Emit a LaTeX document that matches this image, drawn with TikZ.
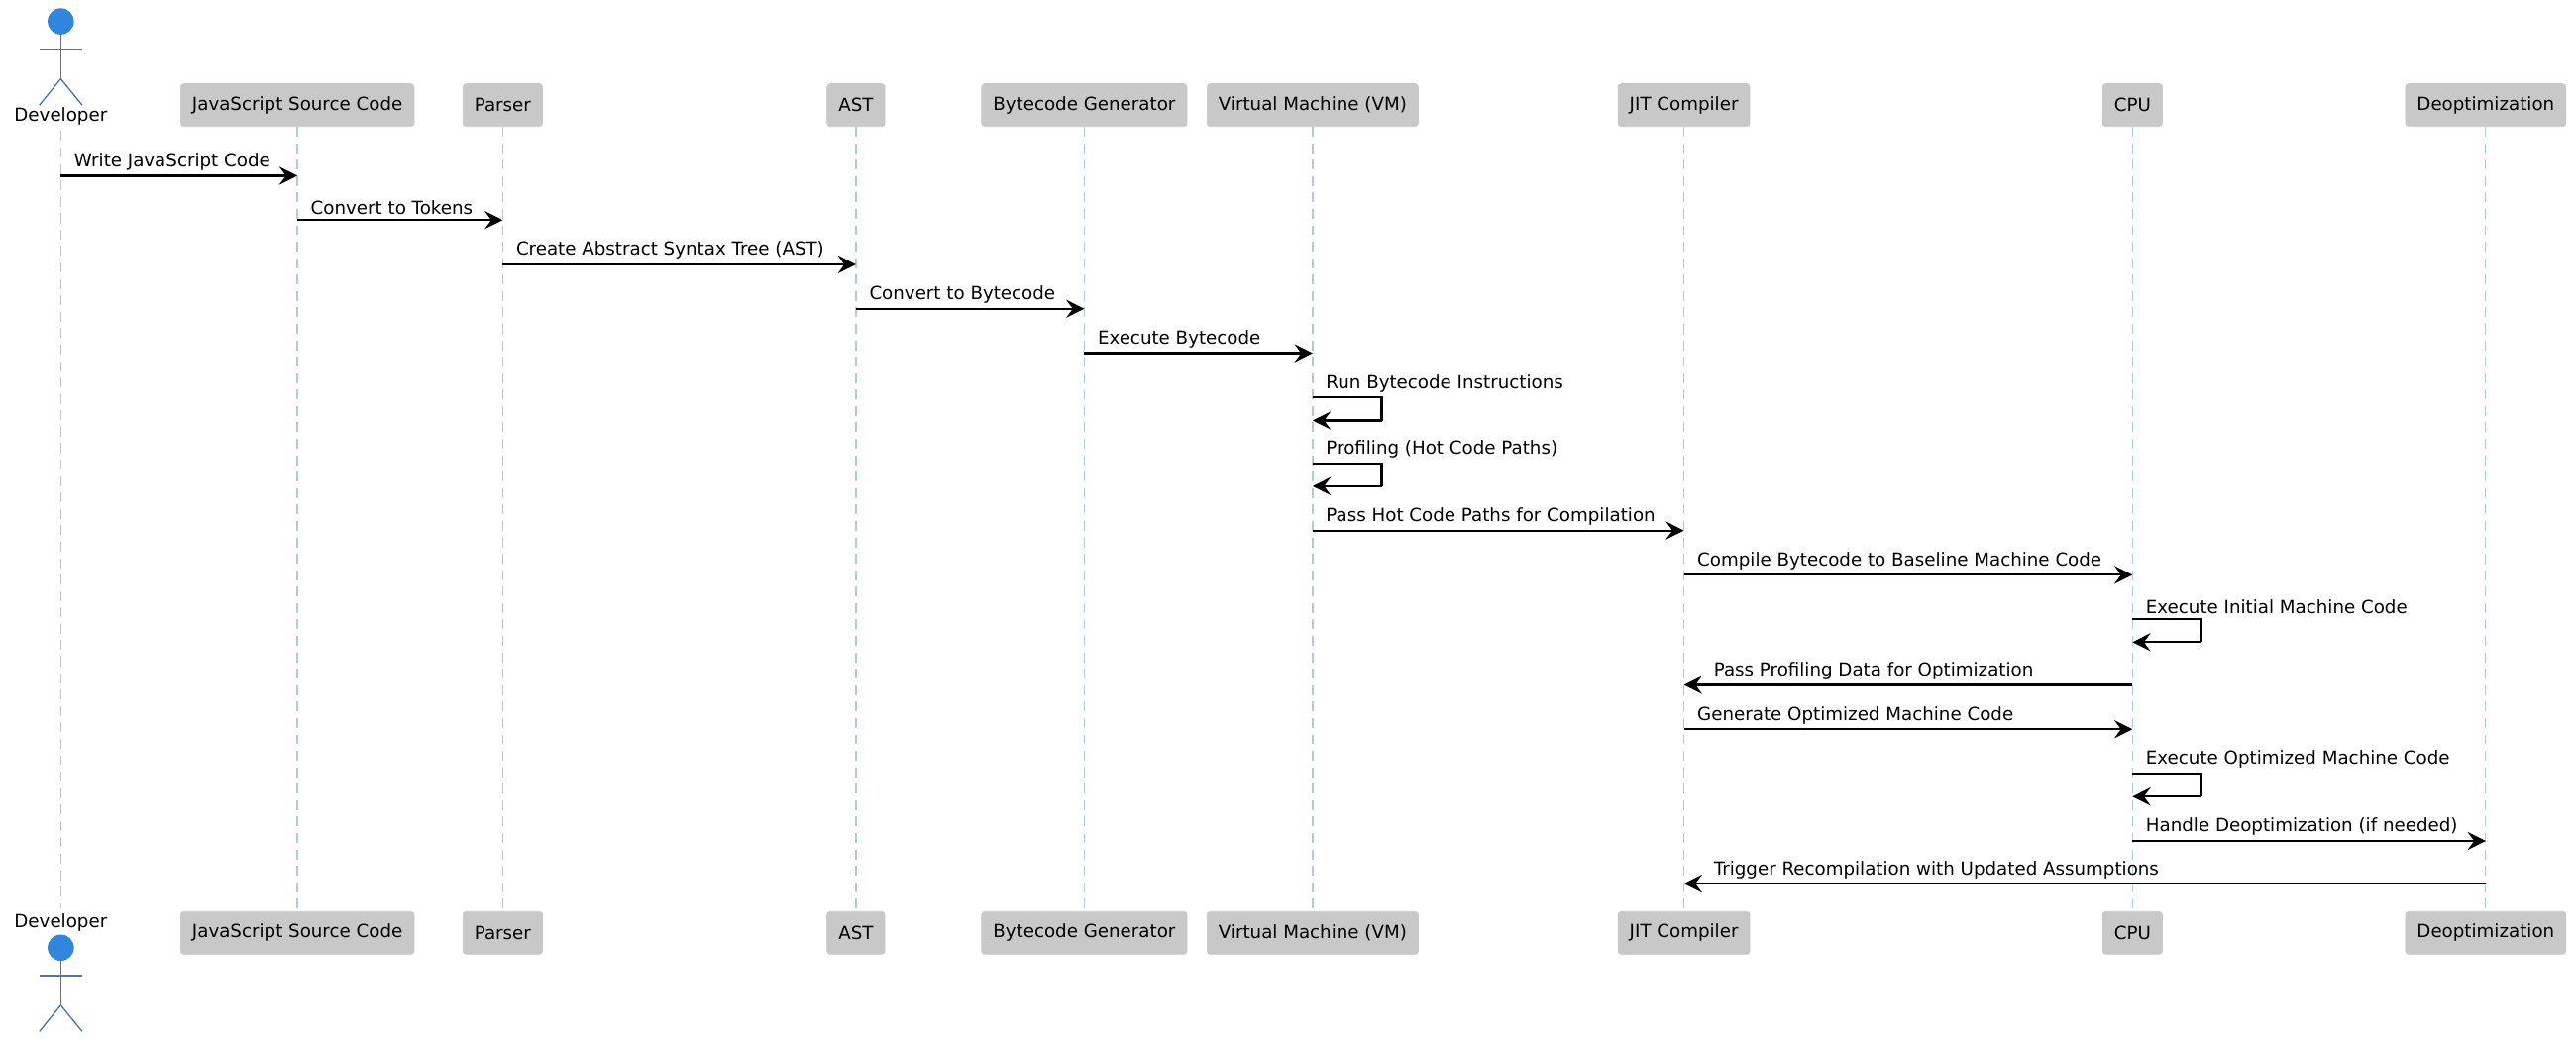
\documentclass[tikz,border=0pt]{standalone}
\usepackage{fontspec}
\setmainfont{DejaVu Sans}
\usetikzlibrary{arrows.meta,calc}
\definecolor{boxgray}{HTML}{C8C8C8}
\definecolor{lifeblue}{HTML}{A9CBE3}
\definecolor{actorblue}{HTML}{2E86DE}
\definecolor{actorline}{HTML}{4A78A8}
\tikzset{
  part/.style={draw=boxgray, fill=boxgray, rounded corners=2pt, minimum height=26pt, inner xsep=7pt, font=\fontsize{11}{13}\selectfont},
  life/.style={lifeblue, dashed, dash pattern=on 6pt off 4pt, line width=0.8pt},
  msg/.style={line width=1.3pt, -{Stealth[length=11pt,width=11pt,inset=4pt]}},
  lbl/.style={font=\fontsize{11}{13}\selectfont, anchor=south west, inner sep=1pt},
  stick/.style={actorline, line width=0.8pt}
}
\newcommand{\actorfig}[2]{% head centre
  \fill[actorblue] (#1,#2) circle (8pt);
  \draw[stick] (#1,#2+8) -- (#1,#2+35);
  \draw[stick] (#1-13,#2+17) -- (#1+13,#2+17);
  \draw[stick] (#1,#2+35) -- (#1-13,#2+51);
  \draw[stick] (#1,#2+35) -- (#1+13,#2+51);
}
\begin{document}
\begin{tikzpicture}[x=1pt,y=-1pt]
\useasboundingbox (0,0) rectangle (1568,633);

% participants
\node[font=\fontsize{11}{13}\selectfont] (dev) at (37,71) {Developer};
\node[font=\fontsize{11}{13}\selectfont] (devb) at (37,562) {Developer};
\actorfig{37}{13}
\actorfig{37}{577}
\foreach \n/\x/\t in {src/181/JavaScript Source Code, par/306/Parser, ast/521/AST,
    gen/660/Bytecode Generator, vm/799/Virtual Machine (VM), jit/1025/JIT Compiler,
    cpu/1298/CPU, deo/1513/Deoptimization}{
  \node[part] (\n) at (\x,64) {\t};
  \node[part] (\n b) at (\x,568) {\t};
  \draw[life] (\n) -- (\n b);
}
\draw[life] (dev) -- (devb);

% messages
\foreach \a/\b/\y/\t in {dev/src/107/Write JavaScript Code, src/par/134/Convert to Tokens,
    par/ast/161/Create Abstract Syntax Tree (AST), ast/gen/188/Convert to Bytecode,
    gen/vm/215/Execute Bytecode, vm/jit/323/Pass Hot Code Paths for Compilation,
    jit/cpu/350/Compile Bytecode to Baseline Machine Code, jit/cpu/444/Generate Optimized Machine Code,
    cpu/deo/512/Handle Deoptimization (if needed)}{
  \draw[msg] (\a.south |- 0,\y) -- (\b.south |- 0,\y);
  \node[lbl] at ($(\a.south |- 0,\y)+(7,-2)$) {\t};
}
\foreach \a/\b/\y/\t in {cpu/jit/417/Pass Profiling Data for Optimization,
    deo/jit/538/Trigger Recompilation with Updated Assumptions}{
  \draw[msg] (\a.south |- 0,\y) -- (\b.south |- 0,\y);
  \node[lbl] at ($(\b.south |- 0,\y)+(17,-2)$) {\t};
}
\foreach \n/\y/\t in {vm/242/Run Bytecode Instructions, vm/282/Profiling (Hot Code Paths),
    cpu/377/Execute Initial Machine Code, cpu/471/Execute Optimized Machine Code}{
  \draw[line width=1.3pt] (\n.south |- 0,\y) -- ++(42,0) -- ++(0,14) coordinate (t);
  \draw[msg] (t) -- (\n.south |- 0,\y+14);
  \node[lbl] at ($(\n.south |- 0,\y)+(7,-2)$) {\t};
}
\end{tikzpicture}
\end{document}
